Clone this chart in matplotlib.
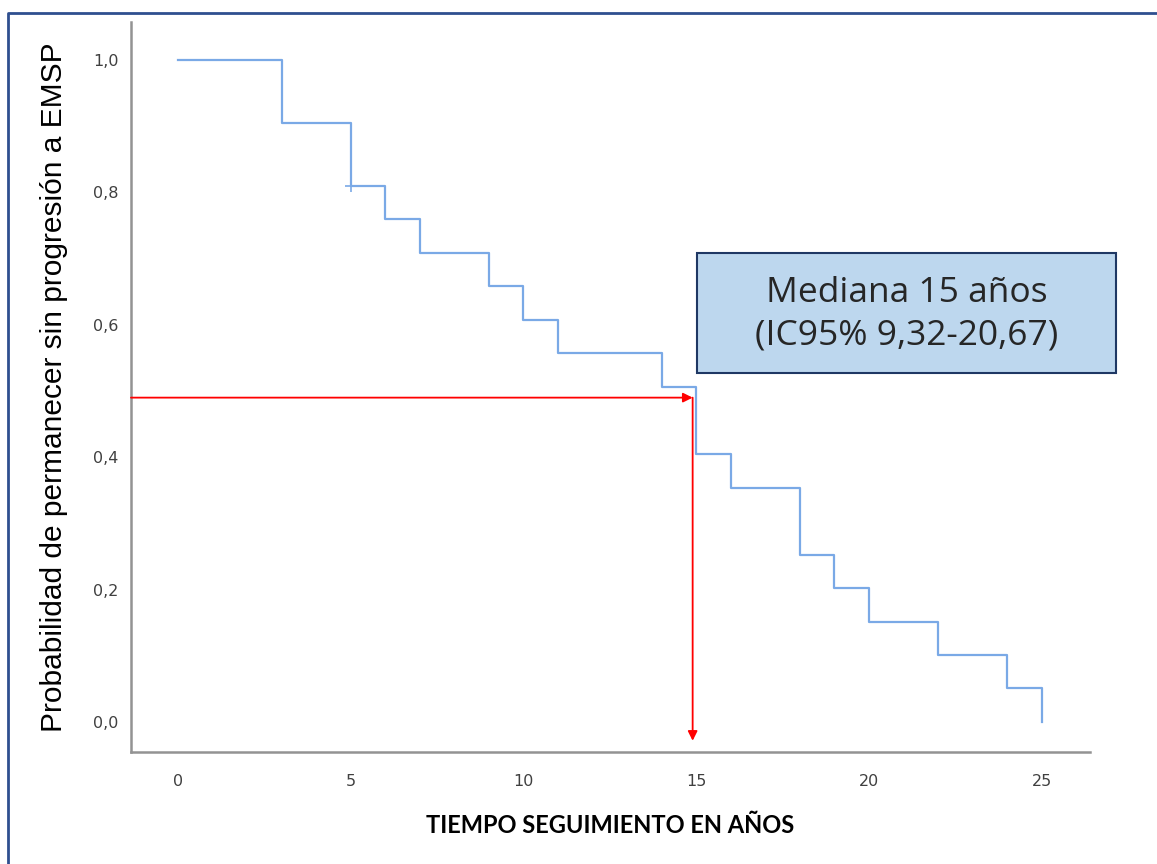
import matplotlib
matplotlib.use("Agg")
from matplotlib import pyplot as plt
from matplotlib.patches import Rectangle
from matplotlib.lines import Line2D

# Kaplan-Meier estimate (time in years, survival probability)
times = [0, 3, 5, 6, 7, 9, 10, 11, 14, 15, 16, 18, 19, 20, 22, 24, 25]
surv = [1.0, 0.905, 0.810, 0.759, 0.709, 0.658, 0.607, 0.557, 0.506,
        0.405, 0.354, 0.253, 0.202, 0.152, 0.101, 0.051, 0.0]
censor_t = [5]
censor_s = [0.810]

median_t = 14.9
median_s = 0.49

xticks = [0, 5, 10, 15, 20, 25]
yticks = [0.0, 0.2, 0.4, 0.6, 0.8, 1.0]
ytick_labels = ["0,0", "0,2", "0,4", "0,6", "0,8", "1,0"]

box_lines = ["Mediana 15 años", "(IC95% 9,32-20,67)"]

fig = plt.figure(figsize=(11.57, 8.64), dpi=100)
ax = fig.add_axes([0.1132, 0.1296, 0.8288, 0.8449])

curve = "#7aa9e6"
ax.step(times, surv, where="post", color=curve, linewidth=1.6)
ax.plot(censor_t, censor_s, marker="+", color=curve, markersize=9,
        markeredgewidth=1.2, linestyle="none")

# median arrows
ax.annotate("", xy=(median_t, median_s), xytext=(-1.36, median_s),
            arrowprops=dict(arrowstyle="-|>", color="red", lw=1.3,
                            mutation_scale=14, shrinkA=0, shrinkB=0))
ax.annotate("", xy=(median_t, -0.028), xytext=(median_t, median_s),
            arrowprops=dict(arrowstyle="-|>", color="red", lw=1.3,
                            mutation_scale=14, shrinkA=0, shrinkB=0))

ax.set_xlim(-1.36, 26.4)
ax.set_ylim(-0.045, 1.057)
ax.set_xticks(xticks)
ax.set_yticks(yticks)
ax.set_yticklabels(ytick_labels)
ax.tick_params(length=0, labelsize=11.5, colors="#404040")
ax.tick_params(axis="x", pad=16)
ax.tick_params(axis="y", pad=9)
for s in ["top", "right"]:
    ax.spines[s].set_visible(False)
for s in ["left", "bottom"]:
    ax.spines[s].set_color("#939393")
    ax.spines[s].set_linewidth(1.8)

ax.set_ylabel("Probabilidad de permanecer sin progresión a EMSP",
              fontsize=21.5, fontfamily="Liberation Sans", color="black", labelpad=18)
ax.set_xlabel("TIEMPO SEGUIMIENTO EN AÑOS", fontsize=17, fontweight="bold",
              fontfamily="Lato", color="black", labelpad=18)

# annotation box
fig.patches.append(Rectangle((0.6024, 0.5683), 0.3622, 0.1389,
                             transform=fig.transFigure, facecolor="#bdd7ee",
                             edgecolor="#1f3864", linewidth=1.5))
fig.text(0.7835, 0.6362, "\n".join(box_lines), ha="center", va="center",
         fontsize=25.5, fontfamily="Open Sans", color="#262626", linespacing=1.35)

# frame around the picture
fig.lines.append(Line2D([8 / 1157, 8 / 1157, 1.0], [0.0, 1 - 13 / 864, 1 - 13 / 864],
                        transform=fig.transFigure, color="#2f4f8f", linewidth=2))

fig.savefig("out.png", dpi=100)
